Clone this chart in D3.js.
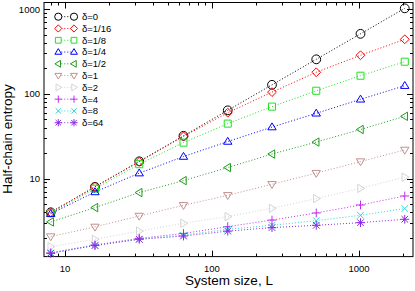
<!DOCTYPE html>
<html>
<head>
<meta charset="utf-8">
<script src="https://cdn.jsdelivr.net/npm/d3@7"></script>
<style>
  body { margin: 0; background: #fff; }
  text { font-family: "Liberation Sans", Arial, sans-serif; }
</style>
</head>
<body>
<svg id="chart"></svg>
<script>
// System sizes
const sizes = [8, 16, 32, 64, 128, 256, 512, 1024, 2048];

// Series labels
const labels = ["δ=0", "δ=1/16", "δ=1/8", "δ=1/4", "δ=1/2", "δ=1", "δ=2", "δ=4", "δ=8", "δ=64"];

// Half-chain entropy per series
const s0    = [4, 8, 16, 32, 64, 128, 256, 512, 1024];
const s1_16 = [4, 8, 15.8, 31.5, 60, 105, 180, 286, 441];
const s1_8  = [3.9, 7.6, 14.8, 26.6, 44.6, 70.8, 109, 164, 240];
const s1_4  = [3.85, 6.95, 11.6, 18.2, 27.4, 40.6, 59, 86.3, 125];
const s1_2  = [3.08, 4.55, 6.84, 9.47, 13.5, 19.5, 27, 38, 54.4];
const s1    = [2.07, 2.69, 3.62, 4.84, 6.35, 8.57, 11.6, 15.9, 21.8];
const s2    = [1.57, 1.92, 2.4, 2.97, 3.56, 4.46, 5.81, 7.67, 10.4];
const s4    = [1.33, 1.65, 1.97, 2.25, 2.71, 3.24, 3.93, 4.88, 6.24];
const s8    = [1.33, 1.63, 1.93, 2.15, 2.52, 2.81, 3.19, 3.69, 4.43];
const s64   = [1.31, 1.62, 1.92, 2.1, 2.4, 2.64, 2.81, 3.02, 3.31];

const xTicks = [10, 100, 1000];
const yTicks = [10, 100, 1000];

const series = [s0, s1_16, s1_8, s1_4, s1_2, s1, s2, s4, s8, s64];
const colors = ["#000000", "#ff0000", "#22e022", "#0000ff", "#1f9a1f",
                "#c09090", "#d4d4d4", "#c030f0", "#30d8d8", "#8a2be2"];
const shapes = ["circle", "diamond", "square", "triUp", "triLeft",
                "triDown", "triRight", "plus", "cross", "star"];

const width = 415, height = 291;
const pLeft = 44, pRight = 413, pTop = 2.5, pBottom = 256.6;

const svg = d3.select("#chart")
  .attr("width", width)
  .attr("height", height);

const x = d3.scaleLog().domain([7.2, 2330]).range([pLeft, pRight]);
const y = d3.scaleLog().domain([1.2, 1200]).range([pBottom, pTop]);

// Thin open marker outlines
function shapePath(type, r) {
  const p = d3.path();
  const t = r * 0.95, s = r * 0.8, a = r * 0.75;
  switch (type) {
    case "circle": p.moveTo(r, 0); p.arc(0, 0, r, 0, 2 * Math.PI); break;
    case "diamond": p.moveTo(0, -r); p.lineTo(r, 0); p.lineTo(0, r); p.lineTo(-r, 0); p.closePath(); break;
    case "square": p.rect(-s, -s, 2 * s, 2 * s); break;
    case "triUp": p.moveTo(0, -t); p.lineTo(t, t * 0.65); p.lineTo(-t, t * 0.65); p.closePath(); break;
    case "triDown": p.moveTo(0, t); p.lineTo(t, -t * 0.65); p.lineTo(-t, -t * 0.65); p.closePath(); break;
    case "triLeft": p.moveTo(-t, 0); p.lineTo(t * 0.65, -t); p.lineTo(t * 0.65, t); p.closePath(); break;
    case "triRight": p.moveTo(t, 0); p.lineTo(-t * 0.65, -t); p.lineTo(-t * 0.65, t); p.closePath(); break;
    case "plus": p.moveTo(-r, 0); p.lineTo(r, 0); p.moveTo(0, -r); p.lineTo(0, r); break;
    case "cross": p.moveTo(-a, -a); p.lineTo(a, a); p.moveTo(-a, a); p.lineTo(a, -a); break;
    case "star":
      p.moveTo(-r, 0); p.lineTo(r, 0); p.moveTo(0, -r); p.lineTo(0, r);
      p.moveTo(-a, -a); p.lineTo(a, a); p.moveTo(-a, a); p.lineTo(a, -a); break;
  }
  return p.toString();
}

// Frame
svg.append("rect")
  .attr("x", pLeft).attr("y", pTop)
  .attr("width", pRight - pLeft).attr("height", pBottom - pTop)
  .attr("fill", "none").attr("stroke", "#000").attr("stroke-width", 1);

// Ticks, inward on all four sides
const xMinor = [];
for (let e = 0; e <= 3; e++) for (let m = 1; m <= 9; m++) {
  const v = m * Math.pow(10, e);
  if (v >= 7.2 && v <= 2330) xMinor.push(v);
}
const yMinor = [];
for (let e = 0; e <= 3; e++) for (let m = 1; m <= 9; m++) {
  const v = m * Math.pow(10, e);
  if (v >= 1.2 && v <= 1200) yMinor.push(v);
}

const ticks = svg.append("g").attr("stroke", "#000").attr("stroke-width", 1);
xMinor.forEach(v => {
  const px = Math.round(x(v)) + 0.5;
  const len = xTicks.includes(v) ? 6 : 3;
  ticks.append("line").attr("x1", px).attr("x2", px).attr("y1", pBottom).attr("y2", pBottom - len);
  ticks.append("line").attr("x1", px).attr("x2", px).attr("y1", pTop).attr("y2", pTop + len);
});
yMinor.forEach(v => {
  const py = Math.round(y(v)) + 0.5;
  const len = yTicks.includes(v) ? 6 : 3;
  ticks.append("line").attr("y1", py).attr("y2", py).attr("x1", pLeft).attr("x2", pLeft + len);
  ticks.append("line").attr("y1", py).attr("y2", py).attr("x1", pRight).attr("x2", pRight - len);
});

// Tick labels
svg.append("g").selectAll("text")
  .data(xTicks).enter().append("text")
  .attr("x", d => x(d)).attr("y", 272)
  .attr("text-anchor", "middle")
  .style("font-size", "9.5px")
  .text(d => d);

svg.append("g").selectAll("text")
  .data(yTicks).enter().append("text")
  .attr("x", 40).attr("y", d => y(d) + 3.5)
  .attr("text-anchor", "end")
  .style("font-size", "9.5px")
  .text(d => d);

// Axis titles
svg.append("text")
  .attr("x", 229).attr("y", 285)
  .attr("text-anchor", "middle")
  .style("font-size", "13.5px")
  .text("System size, L");

svg.append("text")
  .attr("transform", "translate(12,139) rotate(-90)")
  .attr("text-anchor", "middle")
  .style("font-size", "13.5px")
  .text("Half-chain entropy");

// Series lines and markers
const line = d3.line().x(d => x(d[0])).y(d => y(d[1]));

series.forEach((vals, i) => {
  const pts = sizes.map((L, k) => [L, vals[k]]);
  const g = svg.append("g");
  g.append("path")
    .attr("d", line(pts))
    .attr("fill", "none")
    .attr("stroke", colors[i])
    .attr("stroke-width", 1)
    .attr("stroke-dasharray", "1,2");
  g.selectAll("path.mark")
    .data(pts).enter().append("path")
    .attr("class", "mark")
    .attr("transform", d => `translate(${x(d[0])},${y(d[1])})`)
    .attr("d", shapePath(shapes[i], 4.4))
    .attr("fill", "none")
    .attr("stroke", colors[i])
    .attr("stroke-width", 1);
});

// Legend
const legend = svg.append("g");
labels.forEach((lab, i) => {
  const ly = 16.7 + i * 11.78;
  legend.append("line")
    .attr("x1", 58.3).attr("x2", 74).attr("y1", ly).attr("y2", ly)
    .attr("stroke", colors[i]).attr("stroke-dasharray", "1,2");
  [58.3, 74].forEach(lx => {
    legend.append("path")
      .attr("transform", `translate(${lx},${ly})`)
      .attr("d", shapePath(shapes[i], 3.6))
      .attr("fill", "#fff")
      .attr("stroke", colors[i]);
  });
  legend.append("text")
    .attr("x", 82).attr("y", ly + 3.4)
    .style("font-size", "9.5px")
    .text(lab);
});
</script>
</body>
</html>
